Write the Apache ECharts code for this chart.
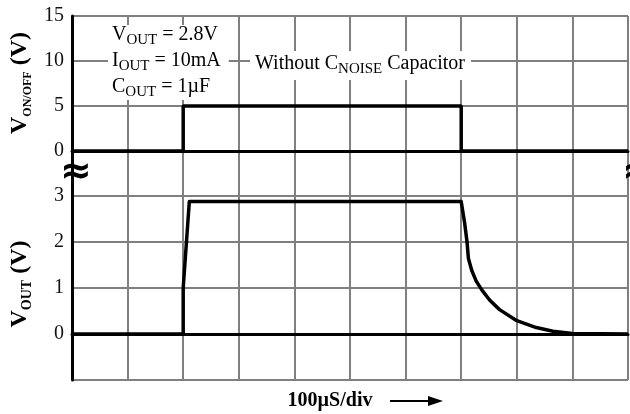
<!DOCTYPE html>
<html>
<head>
    <meta charset="utf-8">
    <title>VOUT turn-on / turn-off</title>
    <script src="https://cdn.jsdelivr.net/npm/echarts@6/dist/echarts.min.js"></script>
    <style>
        html, body { margin: 0; padding: 0; background: #fff; }
        #chartmain { width: 630px; height: 414px; }
    </style>
</head>
<body>
<div id="chartmain"></div>
<script type="text/javascript">
    // time in divisions (100uS/div)
    var vonTime = [0, 2, 2, 7, 7, 10];
    var vonVolt = [0, 0, 5, 5, 0, 0];
    var voutTime = [0, 2.0, 2.0, 2.11, 7.0, 7.06, 7.105, 7.13, 7.19, 7.27, 7.37, 7.51, 7.69, 8.0, 8.35, 8.65, 9.0, 10];
    var voutVolt = [0, 0, 1.0, 2.88, 2.88, 2.43, 2.0, 1.64, 1.38, 1.15, 0.96, 0.74, 0.53, 0.29, 0.14, 0.06, 0.01, 0];
    // tick labels shown on each panel
    var vonTicks = [0, 5, 10, 15];
    var voutTicks = [0, 1, 2, 3];

    var serif = "'Liberation Serif', 'Times New Roman', serif";
    var gridGray = '#808080';

    function pairs(xs, ys) {
        var out = [];
        for (var i = 0; i < xs.length; i++) {
            out.push([xs[i], ys[i]]);
        }
        return out;
    }

    var subRich = {
        m: {fontFamily: serif, fontWeight: 'normal', fontSize: 20, color: '#000', lineHeight: 26},
        s: {fontFamily: serif, fontWeight: 'normal', fontSize: 15, color: '#000', lineHeight: 14, verticalAlign: 'bottom'}
    };

    var myChart = echarts.init(document.getElementById('chartmain'));

    var xCommon = {
        type: 'value',
        min: 0,
        max: 10,
        interval: 1,
        axisTick: {show: false},
        axisLabel: {show: false},
        splitLine: {show: true, lineStyle: {color: gridGray, width: 2}}
    };

    var option = {
        animation: false,
        backgroundColor: '#fff',
        grid: [
            {left: 72, right: 2, top: 16, height: 180},
            {left: 72, right: 2, top: 196, height: 184}
        ],
        xAxis: [
            Object.assign({}, xCommon, {
                gridIndex: 0, position: 'top',
                axisLine: {show: true, lineStyle: {color: '#000', width: 3}}
            }),
            Object.assign({}, xCommon, {
                gridIndex: 1, position: 'bottom',
                axisLine: {show: true, lineStyle: {color: '#000', width: 3}}
            })
        ],
        yAxis: [
            {
                type: 'value', gridIndex: 0, min: -5, max: 15, interval: 5,
                axisLine: {show: true, lineStyle: {color: '#000', width: 3}},
                axisTick: {show: false},
                axisLabel: {
                    margin: 8, fontFamily: serif, fontSize: 20, color: '#111',
                    formatter: function (v) { return vonTicks.indexOf(v) >= 0 ? String(v) : ''; }
                },
                splitLine: {show: true, lineStyle: {color: gridGray, width: 2}}
            },
            {
                type: 'value', gridIndex: 1, min: -1, max: 3, interval: 1,
                axisLine: {show: true, lineStyle: {color: '#000', width: 3}},
                axisTick: {show: false},
                axisLabel: {
                    margin: 8, fontFamily: serif, fontSize: 20, color: '#111',
                    formatter: function (v) { return voutTicks.indexOf(v) >= 0 ? String(v) : ''; }
                },
                splitLine: {show: true, lineStyle: {color: gridGray, width: 2}}
            }
        ],
        title: [
            {
                left: 108, top: 22,
                padding: [0, 8, 0, 4],
                backgroundColor: '#fff',
                text: '{m|V}{s|OUT}{m| = 2.8V}\n{m|I}{s|OUT}{m| = 10mA}\n{m|C}{s|OUT}{m| = 1µF}',
                textStyle: {fontWeight: 'normal', rich: subRich}
            },
            {
                left: 250, top: 48,
                padding: [3, 6, 3, 5],
                backgroundColor: '#fff',
                text: '{m|Without C}{s|NOISE}{m| Capacitor}',
                textStyle: {fontWeight: 'normal', rich: subRich}
            }
        ],
        graphic: [
            {
                type: 'text', x: 20, y: 83, rotation: Math.PI / 2,
                style: {
                    text: '{m|V}{s|ON/OFF}{m| (V)}',
                    align: 'center', verticalAlign: 'middle',
                    rich: {
                        m: {fontFamily: serif, fontWeight: 'bold', fontSize: 24, fill: '#000', lineHeight: 28},
                        s: {fontFamily: serif, fontWeight: 'bold', fontSize: 12, fill: '#000', lineHeight: 12, verticalAlign: 'bottom'}
                    }
                }
            },
            {
                type: 'text', x: 20, y: 284, rotation: Math.PI / 2,
                style: {
                    text: '{m|V}{s|OUT}{m| (V)}',
                    align: 'center', verticalAlign: 'middle',
                    rich: {
                        m: {fontFamily: serif, fontWeight: 'bold', fontSize: 24, fill: '#000', lineHeight: 28},
                        s: {fontFamily: serif, fontWeight: 'bold', fontSize: 14, fill: '#000', lineHeight: 14, verticalAlign: 'bottom'}
                    }
                }
            },
            {
                type: 'text', x: 330, y: 401,
                style: {
                    text: '100µS/div', font: 'bold 20px ' + serif, fill: '#000',
                    align: 'center', verticalAlign: 'middle'
                }
            },
            {
                type: 'line', z: 10,
                shape: {x1: 390, y1: 401, x2: 430, y2: 401},
                style: {stroke: '#000', lineWidth: 2}
            },
            {
                type: 'polygon', z: 10,
                shape: {points: [[428, 396], [443, 401], [428, 406]]},
                style: {fill: '#000'}
            },
            // axis break marks
            {
                type: 'text', x: 76, y: 173, z: 10,
                style: {
                    text: '≈', font: 'bold 38px DejaVu Sans', fill: '#000',
                    align: 'center', verticalAlign: 'middle'
                }
            },
            {
                type: 'text', x: 638, y: 173, z: 10,
                style: {
                    text: '≈', font: 'bold 38px DejaVu Sans', fill: '#000',
                    align: 'center', verticalAlign: 'middle'
                }
            }
        ],
        series: [
            {
                name: 'VON/OFF', type: 'line', xAxisIndex: 0, yAxisIndex: 0,
                data: pairs(vonTime, vonVolt),
                symbol: 'none', silent: true,
                lineStyle: {color: '#000', width: 3.5}
            },
            {
                name: 'VOUT', type: 'line', xAxisIndex: 1, yAxisIndex: 1,
                data: pairs(voutTime, voutVolt),
                symbol: 'none', silent: true,
                lineStyle: {color: '#000', width: 3.5, join: 'round'}
            }
        ]
    };

    myChart.setOption(option);
</script>
</body>
</html>
